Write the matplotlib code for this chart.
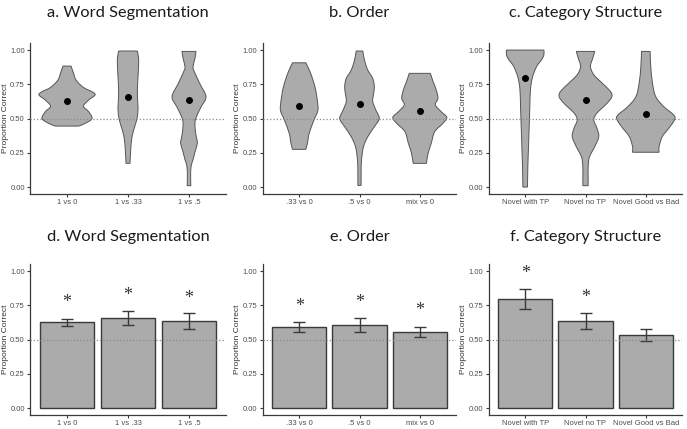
import matplotlib
matplotlib.use('Agg')
import matplotlib.pyplot as plt
from matplotlib.path import Path
from matplotlib.patches import PathPatch
import numpy as np

# 패널별 카테고리
cats_word = ['1 vs 0', '1 vs .33', '1 vs .5']
cats_order = ['.33 vs 0', '.5 vs 0', 'mix vs 0']
cats_cat = ['Novel with TP', 'Novel no TP', 'Novel Good vs Bad']

# 평균값 (정답 비율)
mean_word = [0.626, 0.660, 0.636]
mean_order = [0.593, 0.604, 0.556]
mean_cat = [0.794, 0.635, 0.533]

# 오차 막대 (하한, 상한)
lo_word = [0.600, 0.609, 0.579]
hi_word = [0.650, 0.711, 0.694]
lo_order = [0.557, 0.557, 0.520]
hi_order = [0.628, 0.655, 0.594]
lo_cat = [0.724, 0.576, 0.488]
hi_cat = [0.866, 0.693, 0.576]

# 별표 위치 (None = 유의하지 않음)
star_word = [0.773, 0.820, 0.800]
star_order = [0.740, 0.768, 0.711]
star_cat = [0.980, 0.810, None]

# 바이올린 윤곽: y 값과 반폭 (카테고리 단위)
vio_word_y = [
    [0.445, 0.465, 0.50, 0.55, 0.59, 0.635, 0.672, 0.696, 0.727, 0.78, 0.84, 0.883],
    [0.173, 0.27, 0.367, 0.44, 0.513, 0.586, 0.684, 0.805, 0.927, 0.993],
    [0.01, 0.075, 0.148, 0.20, 0.26, 0.32, 0.367, 0.44, 0.50, 0.586, 0.66, 0.757, 0.85, 0.88, 0.94, 0.99],
]
vio_word_w = [
    [0.19, 0.30, 0.41, 0.355, 0.27, 0.355, 0.46, 0.41, 0.27, 0.15, 0.10, 0.066],
    [0.033, 0.044, 0.066, 0.11, 0.153, 0.164, 0.153, 0.164, 0.175, 0.153],
    [0.03, 0.027, 0.033, 0.066, 0.10, 0.137, 0.12, 0.098, 0.11, 0.20, 0.278, 0.175, 0.08, 0.066, 0.098, 0.115],
]
vio_order_y = [
    [0.275, 0.32, 0.39, 0.49, 0.56, 0.635, 0.73, 0.83, 0.907],
    [0.012, 0.1, 0.197, 0.294, 0.367, 0.44, 0.50, 0.56, 0.623, 0.672, 0.73, 0.793, 0.854, 0.927, 0.993],
    [0.173, 0.245, 0.32, 0.404, 0.465, 0.508, 0.55, 0.60, 0.647, 0.708, 0.77, 0.83],
]
vio_order_w = [
    [0.11, 0.137, 0.164, 0.246, 0.31, 0.30, 0.262, 0.19, 0.11],
    [0.027, 0.027, 0.033, 0.066, 0.137, 0.246, 0.328, 0.273, 0.22, 0.23, 0.246, 0.22, 0.137, 0.082, 0.055],
    [0.11, 0.137, 0.19, 0.246, 0.383, 0.448, 0.355, 0.257, 0.30, 0.273, 0.22, 0.175],
]
vio_cat_y = [
    [0.0, 0.148, 0.294, 0.44, 0.586, 0.71, 0.80, 0.88, 0.93, 0.965, 1.0],
    [0.01, 0.073, 0.148, 0.22, 0.295, 0.368, 0.43, 0.49, 0.54, 0.61, 0.66, 0.70, 0.76, 0.82, 0.88, 0.94, 0.99],
    [0.254, 0.295, 0.368, 0.43, 0.49, 0.525, 0.586, 0.66, 0.76, 0.88, 0.99],
]
vio_cat_w = [
    [0.038, 0.044, 0.055, 0.066, 0.077, 0.087, 0.12, 0.19, 0.273, 0.31, 0.31],
    [0.044, 0.044, 0.044, 0.066, 0.153, 0.22, 0.19, 0.137, 0.19, 0.355, 0.437, 0.41, 0.273, 0.137, 0.082, 0.12, 0.153],
    [0.22, 0.22, 0.273, 0.383, 0.475, 0.465, 0.30, 0.164, 0.11, 0.082, 0.071],
]

yticks = [0.0, 0.25, 0.5, 0.75, 1.0]
ytick_labels = ['0.00', '0.25', '0.50', '0.75', '1.00']

FILL = '#ababab'
EDGE = '#3a3a3a'
TXT = '#4d4d4d'

fig = plt.figure(figsize=(6.87, 4.29), dpi=100)

# 축 위치 (픽셀 기준 → 비율)
W, H = 687.0, 429.0
col_left = [30.4, 263.0, 489.0]
col_right = [225.6, 456.0, 682.0]
row_top = [43.2, 264.2]
row_bot = [193.9, 414.9]


def smooth_side(px, py):
    # Catmull-Rom 곡선을 베지어 제어점으로 변환 (윤곽선을 부드럽게 그리기 위함)
    verts = []
    n = len(px)
    for k in range(n - 1):
        p0 = np.array([px[max(k - 1, 0)], py[max(k - 1, 0)]])
        p1 = np.array([px[k], py[k]])
        p2 = np.array([px[k + 1], py[k + 1]])
        p3 = np.array([px[min(k + 2, n - 1)], py[min(k + 2, n - 1)]])
        c1 = p1 + (p2 - p0) / 6.0
        c2 = p2 - (p3 - p1) / 6.0
        verts += [tuple(c1), tuple(c2), tuple(p2)]
    return verts


def violin_path(xc, ys, ws):
    ys = np.array(ys)
    ws = np.array(ws)
    rx = xc + ws
    lx = (xc - ws)[::-1]
    ly = ys[::-1]
    verts = [(rx[0], ys[0])]
    codes = [Path.MOVETO]
    seg = smooth_side(rx, ys)
    verts += seg
    codes += [Path.CURVE4] * len(seg)
    verts.append((lx[0], ly[0]))
    codes.append(Path.LINETO)
    seg = smooth_side(lx, ly)
    verts += seg
    codes += [Path.CURVE4] * len(seg)
    verts.append((rx[0], ys[0]))
    codes.append(Path.CLOSEPOLY)
    return Path(verts, codes)


def base_axes(col, row, title, cats, pad):
    ax = fig.add_axes([col_left[col] / W, 1 - row_bot[row] / H,
                       (col_right[col] - col_left[col]) / W,
                       (row_bot[row] - row_top[row]) / H])
    ax.set_xlim(-0.6, 2.6)
    ax.set_ylim(-0.05, 1.05)
    ax.set_xticks(range(3))
    ax.set_xticklabels(cats)
    ax.set_yticks(yticks)
    ax.set_yticklabels(ytick_labels)
    for s in ['top', 'right']:
        ax.spines[s].set_visible(False)
    for s in ['left', 'bottom']:
        ax.spines[s].set_color(EDGE)
        ax.spines[s].set_linewidth(0.9)
    ax.tick_params(length=2.2, width=0.8, color=EDGE, labelsize=5.5,
                   labelcolor=TXT, pad=1.8)
    for lab in ax.get_xticklabels() + ax.get_yticklabels():
        lab.set_family('Liberation Sans')
    ax.set_ylabel('Proportion Correct', fontsize=6, color='#333333',
                  family='Liberation Sans', labelpad=1.0)
    ax.set_title(title, fontsize=11.8, family='Lato', color='#1a1a1a', pad=pad)
    ax.axhline(0.5, ls=':', color='#8a8a8a', lw=0.9, zorder=5)
    return ax


def violin_panel(col, title, cats, vys, vws, means):
    ax = base_axes(col, 0, title, cats, 19)
    for i in range(3):
        patch = PathPatch(violin_path(i, vys[i], vws[i]), facecolor=FILL,
                          edgecolor='#555555', lw=0.7, zorder=2)
        ax.add_patch(patch)
    ax.plot(range(3), means, 'o', color='black', ms=4, zorder=6)


def bar_panel(col, title, cats, means, lo, hi, stars):
    ax = base_axes(col, 1, title, cats, 17)
    ax.bar(range(3), means, width=0.9, color=FILL, edgecolor=EDGE, lw=1.0, zorder=2)
    err = [np.array(means) - np.array(lo), np.array(hi) - np.array(means)]
    ax.errorbar(range(3), means, yerr=err, fmt='none', ecolor=EDGE, elinewidth=1.0,
                capsize=4.3, capthick=1.0, zorder=3)
    for i, s in enumerate(stars):
        if s is not None:
            ax.text(i, s, '*', ha='center', va='center', fontsize=13,
                    family='Liberation Serif', color='#333333')


violin_panel(0, 'a. Word Segmentation', cats_word, vio_word_y, vio_word_w, mean_word)
violin_panel(1, 'b. Order', cats_order, vio_order_y, vio_order_w, mean_order)
violin_panel(2, 'c. Category Structure', cats_cat, vio_cat_y, vio_cat_w, mean_cat)

bar_panel(0, 'd. Word Segmentation', cats_word, mean_word, lo_word, hi_word, star_word)
bar_panel(1, 'e. Order', cats_order, mean_order, lo_order, hi_order, star_order)
bar_panel(2, 'f. Category Structure', cats_cat, mean_cat, lo_cat, hi_cat, star_cat)

fig.savefig('out.png', dpi=100)
